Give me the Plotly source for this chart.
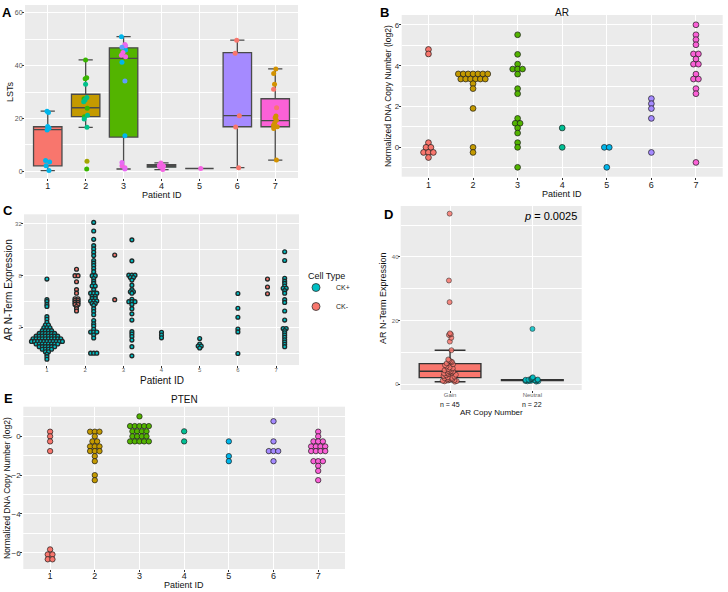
import numpy as np
import plotly.graph_objects as go

W, H = 728, 592
FONT = "Liberation Sans, Arial, sans-serif"

# ---------------- data ----------------
patients = [1, 2, 3, 4, 5, 6, 7]
patient_labels = ["1", "2", "3", "4", "5", "6", "7"]
patient_colors = ["#F8766D", "#C49A00", "#53B400", "#00C094", "#00B6EB", "#A58AFF", "#FB61D7"]

# Panel A: LSTs box statistics per patient
lst_q1 = [2.1, 20.7, 13.0, 1.6, 1.1, 16.9, 16.9]
lst_median = [15.8, 24.1, 42.8, 2.1, 1.1, 21.1, 19.2]
lst_q3 = [16.9, 29.2, 46.8, 2.6, 1.1, 45.0, 27.5]
lst_lower = [0.3, 16.7, 0.9, 0.7, 1.1, 1.4, 4.3]
lst_upper = [22.8, 42.2, 51.0, 3.2, 1.1, 49.7, 38.8]
# Panel A: individual LST values and their point colour group
lst_values = [
    [22.8, 22.3, 17.0, 16.4, 15.7, 4.1, 3.6, 2.1, 0.3],
    [42.2, 35.5, 35.1, 33.0, 28.0, 27.5, 27.0, 26.4, 23.9, 21.3, 20.7, 19.8, 16.7, 3.8, 0.9],
    [51.0, 48.0, 47.6, 47.0, 46.0, 45.0, 44.0, 43.4, 41.3, 34.2, 13.5, 3.4, 2.1, 1.4, 0.9],
    [3.2, 2.2, 2.0, 1.8, 0.7],
    [1.1],
    [49.7, 44.7, 21.1, 16.8, 1.4],
    [38.8, 37.1, 33.0, 31.1, 24.1, 21.0, 20.3, 19.4, 18.4, 17.5, 16.9, 16.2, 4.3],
]
lst_groups = [
    ["cyan"] * 9,
    ["green", "green", "green", "teal", "teal", "green", "teal", "teal", "green", "teal", "green", "teal", "teal", "olive", "green"],
    ["cyan", "pink", "violet", "blue", "cyan", "pink", "pink", "pink", "cyan", "blue", "cyan", "violet", "pink", "pink", "violet"],
    ["pink"] * 5,
    ["pink"],
    ["salmon"] * 5,
    ["gold", "gold", "gold", "salmon", "salmon", "gold", "gold", "gold", "gold", "gold", "gold", "gold", "gold"],
]
point_group_colors = {
    "cyan": "#00B6EB", "green": "#39B600", "teal": "#00C08B", "olive": "#A3A500",
    "pink": "#F564E3", "violet": "#E76BF3", "blue": "#619CFF", "salmon": "#F8766D", "gold": "#D39200",
}

# Panel B: AR copy number (log2) dot plot, binned levels and counts
ar_levels = [
    [4.80, 4.58, 0.23, 0.0, -0.25, -0.50],
    [3.60, 3.35, 3.12, 2.88, 1.91, 0.0, -0.25],
    [5.52, 4.56, 4.08, 3.84, 3.59, 2.88, 2.63, 1.42, 1.18, 0.95, 0.70, 0.23, 0.0, -0.98],
    [0.95, 0.0],
    [0.0, -0.98],
    [2.39, 2.14, 1.90, 1.42, -0.25],
    [6.01, 5.52, 5.28, 5.03, 4.58, 4.33, 4.08, 3.59, 3.35, 2.88, 2.63, -0.74],
]
ar_counts = [
    [1, 1, 1, 2, 3, 1],
    [7, 6, 1, 1, 1, 1, 1],
    [1, 1, 1, 3, 1, 1, 1, 1, 2, 1, 1, 1, 1, 1],
    [1, 1],
    [2, 1],
    [1, 1, 1, 1, 1],
    [1, 1, 1, 1, 2, 1, 2, 1, 2, 1, 1, 1],
]

# Panel C: AR N-term expression per patient and cell type (binned levels, counts)
cell_types = ["CK+", "CK-"]
cell_colors = {"CK+": "#00BFC4", "CK-": "#F8766D"}
expr_ckpos_levels = [
    [7.3, 4.2, 4.0, 3.7, 3.5, 2.66, 2.48, 2.29, 2.13, 1.98, 1.83, 1.70, 1.58, 1.47, 1.37, 1.28, 1.19, 1.11, 1.04, 0.97, 0.91, 0.85],
    [33.4, 26.5, 21.2, 17.9, 16.4, 15.0, 13.7, 12.0, 11.2, 10.5, 9.7, 8.9, 8.0, 7.4, 6.9, 6.5, 6.06, 5.5, 5.0, 4.6, 4.35, 4.05, 3.8, 3.6, 3.3, 3.05, 2.8, 2.4, 2.2, 2.07, 1.9, 1.76, 1.63, 1.5, 1.0],
    [20.9, 11.9, 8.1, 7.6, 7.1, 6.2, 5.5, 5.2, 5.0, 4.24, 3.98, 3.7, 3.3, 2.87, 2.43, 1.78, 1.67, 1.56, 1.42, 1.19, 0.93],
    [1.75, 1.63, 1.51],
    [1.48, 1.28, 1.21, 1.15],
    [4.96, 3.34, 2.62, 1.91, 1.77, 0.99],
    [15.2, 12.0, 7.45, 6.9, 6.5, 6.06, 5.7, 5.35, 5.0, 4.2, 3.9, 3.1, 2.43, 1.94, 1.83, 1.73, 1.63, 1.53, 1.43, 1.35, 1.27, 1.19],
]
expr_ckpos_counts = [
    [1, 1, 1, 1, 1, 1, 1, 1, 2, 3, 4, 6, 8, 10, 11, 8, 6, 4, 2, 1, 1, 1],
    [1, 1, 1, 1, 1, 1, 1, 1, 1, 1, 1, 1, 2, 1, 1, 1, 2, 1, 3, 2, 2, 3, 2, 1, 1, 1, 1, 1, 1, 1, 1, 3, 1, 1, 3],
    [1, 1, 3, 2, 1, 1, 1, 2, 1, 1, 3, 1, 1, 1, 1, 1, 1, 1, 1, 1, 1],
    [1, 1, 1],
    [1, 1, 2, 1],
    [1, 1, 1, 1, 1, 1],
    [1, 1, 1, 1, 1, 1, 2, 1, 1, 1, 1, 1, 1, 2, 1, 1, 1, 1, 1, 1, 1, 1],
]
expr_ckneg_levels = [[], [9.5, 8.0, 6.8, 5.5, 5.0, 4.3, 4.1, 3.9, 3.7, 3.5, 3.3, 3.1], [13.9, 4.2], [], [], [], [7.3, 5.9, 4.93]]
expr_ckneg_counts = [[], [1, 2, 1, 1, 1, 2, 2, 2, 2, 1, 1, 1], [1, 1], [], [], [], [1, 1, 1]]
expr_ticks = [2, 8, 32]
expr_minor_ticks = [1, 4, 16]

# Panel D: AR N-term expression by AR copy number
cn_groups = ["Gain", "Neutral"]
cn_n_labels = ["n = 45", "n = 22"]
cn_colors = ["#F8766D", "#00BFC4"]
gain_values = [53.6, 32.6, 25.8, 16.0, 15.7, 15.5, 14.6, 13.4, 10.7, 7.8, 7.5, 7.2, 7.0, 6.6, 6.3, 6.0, 5.6, 5.3, 5.0,
               4.8, 4.6, 4.4, 4.2, 4.1, 4.0, 3.8, 3.6, 3.4, 3.2, 3.0, 2.8, 2.6, 2.4, 2.2, 2.0, 1.9, 1.7, 1.6, 1.5,
               1.3, 1.2, 1.1, 1.0, 0.9, 0.8]
neutral_values = [17.4, 2.2, 2.0, 1.9, 1.7, 1.6, 1.5, 1.45, 1.4, 1.35, 1.3, 1.3, 1.25, 1.2, 1.2, 1.15, 1.1, 1.05,
                  1.0, 0.95, 0.9, 0.8]
cn_q1 = [2.1, 1.2]
cn_median = [4.1, 1.3]
cn_q3 = [6.5, 1.4]
cn_lower = [0.8, 1.2]
cn_upper = [10.7, 1.4]
p_value_text = "0.0025"

# Panel E: PTEN copy number (log2) dot plot
pten_levels = [
    [0.24, 0.0, -0.26, -0.76, -5.83, -6.09, -6.34],
    [0.24, 0.0, -0.26, -0.52, -0.76, -1.02, -1.28, -2.0, -2.26],
    [1.03, 0.53, 0.26, 0.0, -0.26],
    [0.26, -0.26],
    [-0.26, -1.02, -1.28],
    [0.78, -0.26, -0.76, -1.28],
    [0.24, 0.0, -0.26, -0.52, -0.76, -1.28, -1.52, -1.78, -2.26],
]
pten_counts = [
    [1, 1, 1, 1, 1, 2, 2],
    [3, 1, 2, 3, 3, 1, 1, 1, 1],
    [1, 5, 4, 4, 5],
    [1, 1],
    [1, 1, 1],
    [1, 1, 3, 1],
    [1, 1, 3, 4, 4, 3, 1, 1, 1],
]


# ---------------- helpers ----------------
def xd(l, r):
    return [l / W, r / W]


def yd(t, b):
    return [1 - b / H, 1 - t / H]


def px(x):
    return x / W


def py(y):
    return 1 - y / H


def stack_offsets(counts, width):
    out = []
    for n in counts:
        out.extend((k - (n - 1) / 2) * width for k in range(n))
    return np.array(out)


fig = go.Figure()

# ---------------- Panel A ----------------
for i, p in enumerate(patients):
    fig.add_trace(go.Box(
        x=[p], q1=[lst_q1[i]], median=[lst_median[i]], q3=[lst_q3[i]],
        lowerfence=[lst_lower[i]], upperfence=[lst_upper[i]],
        width=0.75, fillcolor=patient_colors[i], line=dict(color="#4a4a4a", width=1.3),
        boxpoints=False, showlegend=False, xaxis="x", yaxis="y"))
for i, p in enumerate(patients):
    vals = np.array(lst_values[i])
    grps = np.array(lst_groups[i])
    for g in dict.fromkeys(lst_groups[i]):
        sel = vals[grps == g]
        fig.add_trace(go.Box(
            x=[p] * len(sel), y=sel, boxpoints="all", jitter=0.18, pointpos=0, width=0.75,
            fillcolor="rgba(0,0,0,0)", line=dict(color="rgba(0,0,0,0)", width=0),
            marker=dict(color=point_group_colors[g], size=5, line=dict(width=0)),
            showlegend=False, xaxis="x", yaxis="y"))

# ---------------- Panel B ----------------
for i, p in enumerate(patients):
    yv = np.repeat(ar_levels[i], ar_counts[i])
    xv = p + stack_offsets(ar_counts[i], 0.11)
    fig.add_trace(go.Scatter(
        x=xv, y=yv, mode="markers",
        marker=dict(color=patient_colors[i], size=5.8, line=dict(color="#1a1a1a", width=0.7)),
        showlegend=False, xaxis="x2", yaxis="y2"))

# ---------------- Panel C ----------------
for i, p in enumerate(patients):
    both = len(expr_ckneg_levels[i]) > 0 and len(expr_ckpos_levels[i]) > 0
    for ct, lv, ct_counts in (("CK-", expr_ckneg_levels[i], expr_ckneg_counts[i]),
                              ("CK+", expr_ckpos_levels[i], expr_ckpos_counts[i])):
        if not lv:
            continue
        dodge = (-0.225 if ct == "CK-" else 0.225) if both else 0.0
        yv = np.repeat(lv, ct_counts)
        xv = p + dodge + stack_offsets(ct_counts, 0.081)
        fig.add_trace(go.Scatter(
            x=xv, y=yv, mode="markers",
            marker=dict(color=cell_colors[ct], size=3.8, line=dict(color="#1f2a2a", width=1.35)),
            showlegend=False, xaxis="x3", yaxis="y3"))
for ct in cell_types:
    fig.add_trace(go.Scatter(
        x=[None], y=[None], mode="markers", name=ct,
        marker=dict(color=cell_colors[ct], size=8, line=dict(color="#333333", width=0.8)),
        showlegend=True, xaxis="x3", yaxis="y3"))

# ---------------- Panel D ----------------
for i, g in enumerate(cn_groups):
    fig.add_trace(go.Box(
        x=[i + 1], q1=[cn_q1[i]], median=[cn_median[i]], q3=[cn_q3[i]],
        lowerfence=[cn_lower[i]], upperfence=[cn_upper[i]],
        width=0.75, fillcolor=cn_colors[i], line=dict(color="#333333", width=1.4),
        boxpoints=False, showlegend=False, xaxis="x4", yaxis="y4"))
for i, vals in enumerate([gain_values, neutral_values]):
    fig.add_trace(go.Box(
        x=[i + 1] * len(vals), y=vals, boxpoints="all", jitter=0.3, pointpos=0, width=0.75,
        fillcolor="rgba(0,0,0,0)", line=dict(color="rgba(0,0,0,0)", width=0),
        marker=dict(color=cn_colors[i], size=5, opacity=0.85, line=dict(color="#1a1a1a", width=0.6)),
        showlegend=False, xaxis="x4", yaxis="y4"))

# ---------------- Panel E ----------------
for i, p in enumerate(patients):
    yv = np.repeat(pten_levels[i], pten_counts[i])
    xv = p + stack_offsets(pten_counts[i], 0.105)
    fig.add_trace(go.Scatter(
        x=xv, y=yv, mode="markers",
        marker=dict(color=patient_colors[i], size=5.4, line=dict(color="#1a1a1a", width=0.7)),
        showlegend=False, xaxis="x5", yaxis="y5"))


# ---------------- axes ----------------
def axis(domain, anchor, rng, tickfont_size=8, tickcolor="#4D4D4D", standoff=-2, **kw):
    d = dict(domain=domain, anchor=anchor, range=rng, showgrid=True, gridcolor="white", gridwidth=1.1,
             zeroline=False, showline=False, ticks="outside", ticklen=2, tickwidth=1, tickcolor="#333333",
             ticklabelstandoff=standoff,
             tickfont=dict(family=FONT, size=tickfont_size, color=tickcolor), fixedrange=True)
    d.update(kw)
    return d


def minor(dt):
    return dict(dtick=dt, tick0=0, showgrid=True, gridcolor="white", gridwidth=0.5, ticklen=0)


cat_ticks = dict(tickmode="array", tickvals=patients, ticktext=patient_labels)

layout = dict(
    width=W, height=H, margin=dict(l=0, r=0, t=0, b=0), paper_bgcolor="white", plot_bgcolor="#EBEBEB",
    boxmode="overlay", font=dict(family=FONT, color="#000000"),
    xaxis=axis(xd(25, 298), "y", [0.4, 7.6], 9, "#222222", -3, **cat_ticks),
    yaxis=axis(yd(5, 178), "x", [-2.5, 63.0], 7, "#555555", tickmode="linear", tick0=0, dtick=20, minor=minor(10)),
    xaxis2=axis(xd(401.7, 722.7), "y2", [0.4, 7.6], 9, "#222222", -3, **cat_ticks),
    yaxis2=axis(yd(15, 176.7), "x2", [-1.44, 6.49], 8, "#333333", tickmode="linear", tick0=0, dtick=2, minor=minor(1)),
    xaxis3=axis(xd(24, 299), "y3", [0.4, 7.6], 6, "#666666", -3, **cat_ticks),
    yaxis3=axis(yd(214.3, 365), "x3", [-0.138, 1.618], 6, "#666666", type="log", tickmode="array",
                tickvals=expr_ticks, ticktext=[str(t) for t in expr_ticks],
                minor=dict(tickmode="array", tickvals=expr_minor_ticks, showgrid=True, gridcolor="white",
                           gridwidth=0.5, ticklen=0)),
    xaxis4=axis(xd(400.7, 581.7), "y4", [0.4, 2.6], 6, "#666666", -3, tickmode="array", tickvals=[1, 2], ticktext=cn_groups),
    yaxis4=axis(yd(206, 390), "x4", [-1.8, 56.0], 6, "#666666", tickmode="linear", tick0=0, dtick=20, minor=minor(10)),
    xaxis5=axis(xd(23.3, 345), "y5", [0.4, 7.6], 9, "#222222", -4, **cat_ticks),
    yaxis5=axis(yd(406.7, 569), "x5", [-6.84, 1.53], 8, "#333333", tickmode="linear", tick0=0, dtick=2, minor=minor(1)),
    legend=dict(x=px(296), y=py(273), xanchor="left", yanchor="top", bgcolor="rgba(0,0,0,0)",
                font=dict(family=FONT, size=7, color="#222222"), itemwidth=30, tracegroupgap=0),
)
fig.update_layout(**layout)


def ann(text, x, y, size, color="#111111", angle=0, xanchor="center", bold=False, **kw):
    t = f"<b>{text}</b>" if bold else text
    fig.add_annotation(text=t, x=px(x), y=py(y), xref="paper", yref="paper", showarrow=False,
                       xanchor=xanchor, yanchor="middle", textangle=angle,
                       font=dict(family=FONT, size=size, color=color), **kw)


# panel letters
ann("A", 7, 12, 13, "#000000", bold=True)
ann("B", 384, 12, 13, "#000000", bold=True)
ann("C", 8, 211, 13, "#000000", bold=True)
ann("D", 388, 214, 13, "#000000", bold=True)
ann("E", 8, 398, 13, "#000000", bold=True)
# titles
ann("AR", 562, 12, 10)
ann("PTEN", 184, 399, 10)
# axis titles
ann("LSTs", 10, 92, 9, angle=-90)
ann("Patient ID", 161.5, 195, 9)
ann("Normalized DNA Copy Number (log2)", 388, 96, 8.5, angle=-90)
ann("Patient ID", 562, 193.5, 9)
ann("AR N-Term Expression", 8, 290, 10, angle=-90)
ann("Patient ID", 161.5, 380, 10)
ann("AR N-Term Expression", 383, 298, 9, angle=-90)
ann("AR Copy Number", 491, 412.5, 8)
ann("Normalized DNA Copy Number (log2)", 7, 488, 8.5, angle=-90)
ann("Patient ID", 184, 585, 9)
# legend title
ann("Cell Type", 306, 276, 9, xanchor="left")
# p-value and group sizes
ann(f"<i>p</i> = {p_value_text}", 579, 216, 11, "#000000", xanchor="right")
for i, lab in enumerate(cn_n_labels):
    fig.add_annotation(text=lab, x=i + 1, y=py(404.5), xref="x4", yref="paper", showarrow=False,
                       yanchor="middle", font=dict(family=FONT, size=7, color="#111111"))

fig.write_html("out.html", config={"displayModeBar": False},
               post_script="document.body.style.margin='0px';")
